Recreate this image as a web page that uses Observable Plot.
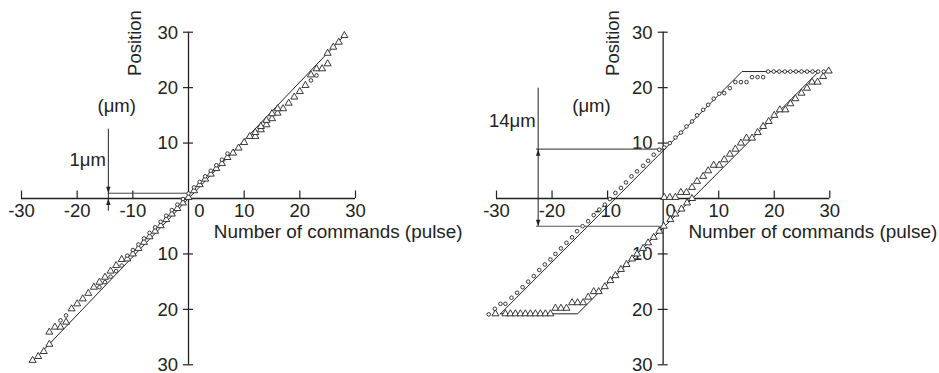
<!DOCTYPE html>
<html><head><meta charset="utf-8">
<script src="https://cdn.jsdelivr.net/npm/d3@7"></script>
<script src="https://cdn.jsdelivr.net/npm/@observablehq/plot@0.6"></script>
<style>
html,body{margin:0;padding:0;background:#fff;}
#wrap{display:flex;width:939px;height:373px;overflow:hidden;}
#wrap svg{display:block;}
</style></head><body><div id="wrap"></div>
<script>
// ---------- axis ticks ----------
const xTicks = [-30, -20, -10, 10, 20, 30];
const xTickLabels = ["-30", "-20", "-10", "10", "20", "30"];
const zeroLabel = ["0"];
const yTicks = [30, 20, 10, -10, -20, -30];
const yTickLabels = ["30", "20", "10", "10", "20", "30"];
const xTitle = ["Number of commands (pulse)"];
const yTitle = ["Position"];
const unitLabel = ["(μm)"];

// ---------- left panel data ----------
const leftLineX = [-28, 28];
const leftLineY = [-29.4, 29.4];
const leftTriangles = [
  [-28,-29.2],[-27,-28.5],[-26,-27.6],[-25,-26.3],[-25,-24.1],[-24,-23.2],[-23,-23.2],[-22,-22.3],
  [-21,-19.9],[-20,-19.0],[-19,-18.1],[-18,-17.1],[-17,-16.0],[-16,-15.1],[-15,-14.2],[-14,-13.1],
  [-13,-12.1],[-12,-11.0],[-11,-10.9],[-10,-10.0],[-9,-9.0],[-8,-7.9],[-7,-6.9],[-6,-5.9],[-5,-4.9],
  [-4,-3.8],[-3,-2.8],[-2,-1.8],[-1,-0.8],[0,0.2],[1,1.4],[2,2.5],[3,3.5],[4,4.4],[5,5.4],[6,6.3],
  [7,7.4],[8,8.2],[9,9.1],[10,10.1],[11,11.2],[12,11.2],[13,12.4],[14,13.3],[15,14.4],[16,15.4],
  [17,16.2],[18,17.2],[19,18.3],[20,19.3],[21,20.4],[22,22.3],[23,23.4],[24,23.4],[25,24.3],
  [25,26.2],[26,27.3],[27,28.2],[28,29.4],
  [12,11.9],[13,13.0],[14,14.1],[15,15.3],[16,16.2]
];
const leftCircles = [
  [-23,-22.0],[-22,-21.1],[-16,-16.0],[-15,-15.1],[-14,-14.1],[-13,-13.1],[-12,-12.1],
  [-11,-10.3],[-10,-9.3],[-9,-8.3],[-8,-7.2],[-7,-6.2],[-6,-5.2],[-5,-4.2],[-4,-3.1],[-3,-2.1],
  [-2,-1.1],[-1,-0.1],[0,0.9],[1,2.0],[2,3.0],[3,4.0],[4,5.0],[5,6.0],[6,7.0],[7,8.1],
  [22,21.3],[23,22.2]
];
// 1 µm annotation
const leftMarkX = [-14.4];
const leftMarkLevels = [0.95, 0];
const leftMarkSpan = [12.5, -2.3];
const leftMarkText = ["1μm"];
const leftMarkTextY = [7.0];

// ---------- right panel data ----------
const rightLoopX = [-29.3, 14.2, 28.0, -15.4, -29.3];
const rightLoopY = [-20.8, 22.9, 22.9, -20.8, -20.8];
const rightTriangles = [
  [-30.2,-20.8],[-28.4,-20.8],[-27.5,-20.8],[-26.6,-20.8],[-25.7,-20.8],[-24.8,-20.8],[-23.9,-20.8],
  [-23.0,-20.8],[-22.1,-20.8],[-21.2,-20.8],[-20.3,-20.8],
  [-19.4,-19.8],[-18.4,-19.8],[-17.4,-19.8],[-16.4,-18.8],[-15.4,-18.8],[-14.4,-18.8],
  [-13.5,-17.8],[-12.5,-16.8],[-11.6,-16.8],[-10.5,-15.9],[-9.5,-14.8],[-8.6,-13.9],[-7.6,-12.8],
  [-6.6,-11.9],[-5.6,-10.9],[-4.7,-10.0],[-3.6,-9.0],[-2.7,-8.0],[-1.7,-7.0],[-0.7,-5.9],[0.1,-5.0],
  [1.3,-3.8],[2.2,-2.8],[3.3,-1.9],[4.3,-0.8],[5.2,0.0],
  [0.2,0.2],[1.2,0.2],[2.2,0.2],[3.2,1.1],[4.2,1.1],[5.2,2.0],[6.1,3.1],[7.2,4.0],[8.1,5.0],
  [9.1,6.0],[10.1,6.0],[11.0,7.0],[12.0,8.0],[13.0,8.9],[14.0,10.0],[15.0,10.9],[16.0,10.9],
  [17.0,11.9],[18.0,13.0],[19.0,13.9],[20.0,15.0],[21.0,16.0],[22.0,16.0],[22.9,17.1],[23.8,18.0],
  [24.9,19.0],[25.9,19.9],[26.8,21.0],[27.8,21.0],[28.8,22.0],[29.8,23.0]
];
const rightCircles = [
  [-31.4,-20.9],[-30.3,-19.9],[-29.3,-19.0],[-28.4,-19.0],[-27.3,-17.9],[-26.3,-17.0],[-25.3,-16.0],
  [-24.3,-15.0],[-23.3,-14.0],[-22.3,-12.9],[-21.3,-11.9],[-20.3,-11.0],[-19.4,-10.0],[-18.4,-9.0],
  [-17.4,-8.0],[-16.4,-7.0],[-15.5,-5.9],[-14.5,-5.0],[-13.5,-4.1],[-12.5,-3.0],[-11.5,-2.0],
  [-10.5,-1.1],[-9.6,-0.1],[-8.6,1.0],[-7.6,1.9],[-6.7,2.9],[-5.7,4.0],[-4.7,4.9],[-3.6,5.9],
  [-2.7,6.8],[-1.7,7.9],[-0.7,8.8],[0.2,9.2],[1.2,10.0],[2.2,11.0],[3.2,11.9],[4.2,13.0],[5.2,13.9],
  [6.1,15.0],[7.2,16.0],[8.1,16.9],[9.1,18.0],[10.1,18.9],[11.0,19.0],[12.0,19.9],[13.0,21.0],
  [14.0,21.0],[15.0,21.0],[16.0,21.9],[17.0,21.9],[18.0,21.9],[18.9,22.9],[19.9,22.9],[20.9,22.9],
  [21.9,22.9],[22.9,22.9],[23.9,22.9],[24.9,22.9],[25.9,22.9],[26.9,22.9],[27.9,22.9],[28.9,22.9]
];
// 14 µm annotation
const rightMarkX = [-22.5];
const rightMarkLevels = [8.9, -5.0];
const rightMarkLineX = [-22.8, 0.4];
const rightMarkSpan = [19.9, -5.0];
const rightMarkText = ["14μm"];
const rightMarkTextY = [13.9];
const unitPos = [-12.9, 16.7];

// ---------- styling ----------
const FONT = "'Liberation Sans', Arial, Helvetica, sans-serif";
const FS = 18.5;
const INK = "#222";
const arrowDown = {draw(ctx){ctx.moveTo(-2.2,-6.5);ctx.lineTo(2.2,-6.5);ctx.lineTo(0,0);ctx.closePath();}};
const arrowUp = {draw(ctx){ctx.moveTo(-2.2,6.5);ctx.lineTo(2.2,6.5);ctx.lineTo(0,0);ctx.closePath();}};

function axisMarks(o) {
  return [
    Plot.ruleY([0], {x1: -30, x2: 30, stroke: INK, strokeWidth: 1.3}),
    Plot.ruleX([0], {y1: -30, y2: 30, stroke: INK, strokeWidth: 1.3}),
    Plot.ruleX(xTicks, {x: d => d, y1: 0, y2: 1.35, stroke: INK, strokeWidth: 1.2}),
    Plot.ruleY(yTicks, {y: d => d, x1: -0.9, x2: 0.9, stroke: INK, strokeWidth: 1.2}),
    Plot.text(xTicks, {x: d => d, y: 0, text: (d, i) => xTickLabels[i], dy: 12.5, fontSize: FS, fill: INK}),
    Plot.text(zeroLabel, {x: 0, y: 0, text: d => d, dx: o.zeroDx, dy: 12.5, fontSize: FS, fill: INK}),
    Plot.text(yTicks, {x: 0, y: d => d, text: (d, i) => yTickLabels[i], textAnchor: "end", dx: -10.5, dy: 0.5, fontSize: FS, fill: INK}),
    Plot.text(xTitle, {x: 0, y: 0, text: d => d, textAnchor: "start", dx: 25.3, dy: 33.5, fontSize: 18.9, fill: INK}),
    Plot.text(yTitle, {x: 0, y: 30, text: d => d, rotate: -90, dx: o.titleDx, dy: 10.8, fontSize: FS, fill: INK}),
    Plot.text(unitLabel, {x: unitPos[0], y: unitPos[1], text: d => d, fontSize: FS, fill: INK})
  ];
}

function dots(tri, circ) {
  return [
    Plot.dot(tri, {x: d => d[0], y: d => d[1], symbol: "triangle", r: 2.6, stroke: INK, strokeWidth: 0.9, fill: "white"}),
    Plot.dot(circ, {x: d => d[0], y: d => d[1], symbol: "circle", r: 1.8, stroke: INK, strokeWidth: 0.9, fill: "white"})
  ];
}

const left = Plot.plot({
  width: 470, height: 373,
  marginLeft: 21, marginRight: 115, marginTop: 31.7, marginBottom: 8.7,
  x: {domain: [-30, 30], axis: null},
  y: {domain: [-30, 30], axis: null},
  style: {fontFamily: FONT, background: "white", overflow: "visible"},
  marks: [
    ...axisMarks({zeroDx: 11, titleDx: -53}),
    Plot.line(leftLineX.map((x, i) => [x, leftLineY[i]]), {x: d => d[0], y: d => d[1], stroke: INK, strokeWidth: 1}),
    // 1 µm annotation
    Plot.ruleY([leftMarkLevels[0]], {x1: leftMarkX[0], x2: 0, stroke: "#444", strokeWidth: 1}),
    Plot.ruleX(leftMarkX, {y1: leftMarkSpan[0], y2: leftMarkSpan[1], stroke: INK, strokeWidth: 1}),
    Plot.dot([leftMarkLevels[0]], {x: leftMarkX[0], y: d => d, symbol: arrowDown, fill: INK, stroke: "none", r: 3}),
    Plot.dot([leftMarkLevels[1]], {x: leftMarkX[0], y: d => d, symbol: arrowUp, fill: INK, stroke: "none", r: 3}),
    Plot.text(leftMarkText, {x: leftMarkX[0], y: leftMarkTextY[0], text: d => d, textAnchor: "end", dx: -2.5, fontSize: FS, fill: INK}),
    ...dots(leftTriangles, leftCircles)
  ]
});

const right = Plot.plot({
  width: 469, height: 373,
  marginLeft: 26, marginRight: 109.7, marginTop: 31.7, marginBottom: 8.7,
  x: {domain: [-30, 30], axis: null},
  y: {domain: [-30, 30], axis: null},
  style: {fontFamily: FONT, background: "white", overflow: "visible"},
  marks: [
    ...axisMarks({zeroDx: 7.5, titleDx: -50.2}),
    Plot.line(rightLoopX.map((x, i) => [x, rightLoopY[i]]), {x: d => d[0], y: d => d[1], stroke: INK, strokeWidth: 1}),
    // 14 µm annotation
    Plot.ruleY(rightMarkLevels, {x1: rightMarkLineX[0], x2: rightMarkLineX[1], stroke: "#555", strokeWidth: 1.1}),
    Plot.ruleX(rightMarkX, {y1: rightMarkSpan[0], y2: rightMarkSpan[1], stroke: INK, strokeWidth: 1}),
    Plot.dot([rightMarkLevels[0]], {x: rightMarkX[0], y: d => d, symbol: arrowUp, fill: INK, stroke: "none", r: 3}),
    Plot.dot([rightMarkLevels[1]], {x: rightMarkX[0], y: d => d, symbol: arrowDown, fill: INK, stroke: "none", r: 3}),
    Plot.text(rightMarkText, {x: rightMarkX[0], y: rightMarkTextY[0], text: d => d, textAnchor: "end", dx: -2.5, fontSize: FS, fill: INK}),
    ...dots(rightTriangles, rightCircles)
  ]
});

document.getElementById("wrap").append(left, right);
</script>
</body></html>
